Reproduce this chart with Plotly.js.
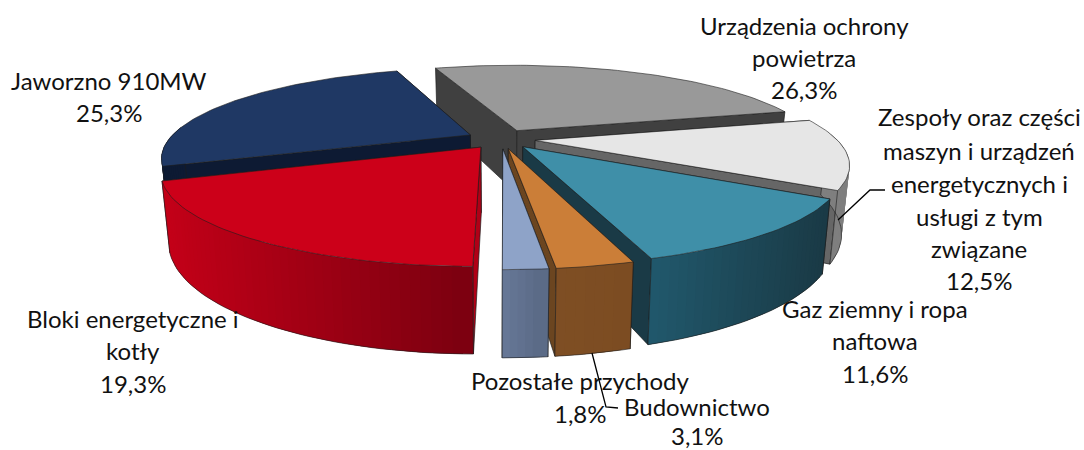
<!DOCTYPE html>
<html><head><meta charset="utf-8">
<script src="https://cdn.plot.ly/plotly-3.0.1.min.js"></script>
<style>html,body{margin:0;padding:0;background:#fff}#c{width:1084px;height:450px}</style>
</head><body><div id="c"></div>
<script>
// Data
const categories = ["Urządzenia ochrony powietrza","Zespoły oraz części maszyn i urządzeń energetycznych i usługi z tym związane","Gaz ziemny i ropa naftowa","Budownictwo","Pozostałe przychody","Bloki energetyczne i kotły","Jaworzno 910MW"];
const values = [26.3,12.5,11.6,3.1,1.8,19.3,25.3];
const valueLabels = ["26,3%","12,5%","11,6%","3,1%","1,8%","19,3%","25,3%"];
const labelLines = [
  ["Urządzenia ochrony","powietrza"],
  ["Zespoły oraz części","maszyn i urządzeń","energetycznych i","usługi z tym","związane"],
  ["Gaz ziemny i ropa","naftowa"],
  ["Budownictwo"],
  ["Pozostałe przychody"],
  ["Bloki energetyczne i","kotły"],
  ["Jaworzno 910MW"]
];
// Styling
const topCol  = ["#999999","#e6e6e6","#3f8fa8","#cb7e38","#8ea3c8","#cc0019","#1f3864"];
const cutCol  = ["#404040","#666666","#1a3a46","#6b4520","#55678a","#b00016","#0d1a33"];
const wallL   = ["#666666","#7f7f7f","#215a6e","#7f4f24","#6a7c9c","#c40018","#0d1a33"];
const wallR   = ["#666666","#7f7f7f","#1a3a46","#7c4c22","#5a6a85","#7c0010","#0d1a33"];
const labelX  = [804,979,875,697,580,133,109];
const labelY  = [[25,57,89],[116,150,183,216,248,280],[308,340,373],[406,435],[380,413],[318,350,383],[80,112]];
const leaders = [[[885,190],[870,190],[838,220]],[[592,353],[606,407],[618,408]]];

// Projection parameters
const CX=501, CY=139, A=0.00317, B=0.00078, V=0.27, DEPTH=0.203, SHR=0.977, EXPL=0.114, XS=0.955;
const START=-19.1;

function proj(X,Y,low){
  const w=A+B*Y;
  let x=XS*X/w, y=-V*Y/w;
  if(low){ x*=SHR; y+=DEPTH/w; }
  return [CX+x, CY+y];
}
const rad=d=>d*Math.PI/180;
const traces=[];
function poly(pts,fill,line,lw){
  traces.push({type:'scatter',mode:'lines',x:pts.map(p=>p[0]),y:pts.map(p=>p[1]),
    fill:'toself',fillcolor:fill,line:{color:line||fill,width:lw===undefined?0.8:lw,shape:'linear'},hoverinfo:'skip',showlegend:false});
}
function outline(pts,col,lw){
  traces.push({type:'scatter',mode:'lines',x:pts.map(p=>p[0]),y:pts.map(p=>p[1]),
    line:{color:col,width:lw},hoverinfo:'skip',showlegend:false});
}
function mix(c1,c2,t){
  const p=c=>[1,3,5].map(i=>parseInt(c.substr(i,2),16));
  const a=p(c1),b=p(c2);
  return 'rgb('+a.map((v,i)=>Math.round(v+(b[i]-v)*t)).join(',')+')';
}
function area(p){let s=0;for(let i=0;i<p.length;i++){const q=p[(i+1)%p.length];s+=p[i][0]*q[1]-q[0]*p[i][1];}return s/2;}

const total=values.reduce((a,b)=>a+b,0);
let acc=0;
const slices=values.map((v,i)=>{
  const a0=START+acc/total*360; acc+=v; const a1=START+acc/total*360;
  return {i,a0,a1};
});
const EDGE='#1c1c1c';
function drawSlice(s){
  const {i,a0,a1}=s;
  const mid=rad((a0+a1)/2), ox=EXPL*Math.sin(mid), oy=EXPL*Math.cos(mid);
  const pt=(deg,low)=>proj(ox+Math.sin(rad(deg)),oy+Math.cos(rad(deg)),low);
  const aT=proj(ox,oy,false), aB=proj(ox,oy,true);
  const n=Math.max(6,Math.ceil((a1-a0)/1.5));
  const angs=[];for(let k=0;k<=n;k++)angs.push(a0+(a1-a0)*k/n);
  // cut faces, hidden one first
  const fs=[aT,pt(a0,false),pt(a0,true),aB];
  const fe=[aT,pt(a1,false),pt(a1,true),aB];
  const sVisible=area(fs)<0, eVisible=area(fe)>0;
  const faces=[];
  if(!sVisible)faces.push(fs); if(!eVisible)faces.push(fe);
  if(sVisible)faces.push(fs); if(eVisible)faces.push(fe);
  faces.forEach(f=>poly(f.concat([f[0]]),cutCol[i],EDGE,0.7));
  // outer wall, only the part turned to the viewer
  const vis=angs.filter(d=>Math.cos(rad(d))<0.1);
  if(vis.length>1){
    const xs=vis.map(d=>pt(d,false)[0]);
    const x0=Math.min(...xs),x1=Math.max(...xs);
    // each band overlaps the next one so no seams show
    const order=[...Array(vis.length-1).keys()].reverse();
    order.forEach(k=>{
      const e=Math.min(k+2,vis.length-1);
      const p1=pt(vis[k],false),p2=pt(vis[e],false),p3=pt(vis[e],true),p4=pt(vis[k],true);
      const mid2=pt((vis[k]+vis[k+1])/2,false);
      const t=(mid2[0]-x0)/((x1-x0)||1);
      const c=mix(wallL[i],wallR[i],t);
      poly([p1,p2,p3,p4,p1],c,c,0);
    });
    const edge=vis.map(d=>pt(d,true));
    outline([pt(vis[0],false),pt(vis[0],true)].concat(edge).concat([pt(vis[vis.length-1],false)]),EDGE,0.6);
  }
  // top
  const top=[aT].concat(angs.map(d=>pt(d,false))).concat([aT]);
  poly(top,topCol[i],'rgba(30,30,30,0.75)',0.8);
}
// painter's order, back to front
[0,6,1,5,2,3,4].forEach(k=>drawSlice(slices[k]));

// leader lines
leaders.forEach(l=>outline(l,'#000',1.3));

// labels
const annotations=[];
categories.forEach((c,i)=>{
  labelLines[i].concat([valueLabels[i]]).forEach((t,j)=>{
    annotations.push({x:labelX[i],y:labelY[i][j],xref:'x',yref:'y',text:t,showarrow:false,
      xanchor:'center',yanchor:'middle',font:{family:'Lato, "Open Sans", sans-serif',size:24,color:'#111'}});
  });
});
Plotly.newPlot('c',traces,{
  width:1084,height:450,margin:{l:0,r:0,t:0,b:0},paper_bgcolor:'#fff',plot_bgcolor:'#fff',showlegend:false,
  xaxis:{range:[0,1084],visible:false,fixedrange:true},
  yaxis:{range:[450,0],visible:false,fixedrange:true},
  annotations
},{displayModeBar:false,staticPlot:true});
</script></body></html>
